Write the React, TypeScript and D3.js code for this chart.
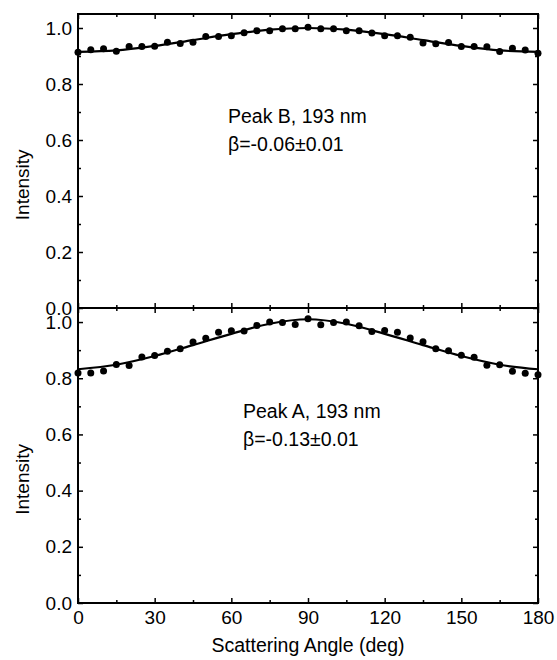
import React, { useRef, useEffect } from "react";
import * as d3 from "d3";

// scattering angle (deg) of the measured points
const angles = [
  0, 5, 10, 15, 20, 25, 30, 35, 40, 45, 50, 55, 60, 65, 70, 75, 80, 85, 90,
  95, 100, 105, 110, 115, 120, 125, 130, 135, 140, 145, 150, 155, 160, 165, 170, 175, 180,
];

// Peak B (top panel)
const peakB = [
  0.913, 0.922, 0.926, 0.917, 0.934, 0.934, 0.935, 0.949, 0.945, 0.949, 0.97, 0.97, 0.972,
  0.983, 0.99, 0.99, 0.997, 0.997, 1.003, 0.997, 0.997, 0.99, 0.99, 0.982, 0.972, 0.972,
  0.967, 0.946, 0.944, 0.948, 0.934, 0.934, 0.933, 0.916, 0.928, 0.921, 0.91,
];

// Peak A (bottom panel)
const peakA = [
  0.819, 0.819, 0.826, 0.849, 0.845, 0.876, 0.881, 0.896, 0.905, 0.929, 0.942, 0.964, 0.969,
  0.968, 0.988, 1.0, 0.998, 0.991, 1.012, 0.99, 0.998, 1.0, 0.987, 0.966, 0.97, 0.964,
  0.943, 0.93, 0.905, 0.898, 0.882, 0.875, 0.846, 0.848, 0.825, 0.818, 0.812,
];

// fit curves
const fitAngles = [0, 15, 30, 45, 60, 75, 90, 105, 120, 135, 150, 165, 180];
const fitB = [0.915, 0.92, 0.936, 0.957, 0.978, 0.994, 1.0, 0.994, 0.978, 0.957, 0.936, 0.92, 0.915];
const fitA = [0.832, 0.848, 0.879, 0.918, 0.958, 0.994, 1.01, 0.994, 0.958, 0.918, 0.879, 0.848, 0.832];

const xTicks = [0, 30, 60, 90, 120, 150, 180];
const xMinor = [15, 45, 75, 105, 135, 165];
const yTicks = [0, 0.2, 0.4, 0.6, 0.8, 1.0];
const yMinor = [0.1, 0.3, 0.5, 0.7, 0.9];

const panels = [
  { name: "Peak B, 193 nm", beta: "β=-0.06±0.01", points: peakB, fit: fitB, top: 14, bottom: 308, textX: 228 },
  { name: "Peak A, 193 nm", beta: "β=-0.13±0.01", points: peakA, fit: fitA, top: 308, bottom: 603, textX: 243 },
];

const W = 557;
const H = 660;
const left = 78;
const right = 538;
const font = "'Liberation Sans', Arial, sans-serif";

export default function App() {
  const svgRef = useRef<SVGSVGElement>(null);

  useEffect(() => {
    const svg = d3.select(svgRef.current);
    svg.selectAll("*").remove();

    const x = d3.scaleLinear().domain([0, 180]).range([left, right]);

    panels.forEach((p, i) => {
      const y = d3.scaleLinear().domain([0, 1.05]).range([p.bottom, p.top]);
      const g = svg.append("g");
      const isLast = i === panels.length - 1;

      // axes, ticks pointing inward
      const put = (axis: any, tx: number, ty: number) => {
        const a = g.append("g").attr("transform", `translate(${tx},${ty})`).call(axis);
        a.select(".domain").remove();
        a.selectAll(".tick line").attr("stroke-width", 1.5);
        a.selectAll("text").attr("font-family", font).attr("font-size", 19).attr("fill", "#000");
        return a;
      };

      put(d3.axisLeft(y).tickValues(yTicks).tickSize(-5).tickPadding(6).tickFormat(d3.format(".1f")), left, 0);
      put(d3.axisLeft(y).tickValues(yMinor).tickSize(-3).tickFormat(() => ""), left, 0);
      put(d3.axisRight(y).tickValues(yTicks).tickSize(-5).tickFormat(() => ""), right, 0);
      put(d3.axisRight(y).tickValues(yMinor).tickSize(-3).tickFormat(() => ""), right, 0);
      put(d3.axisTop(x).tickValues(xTicks).tickSize(-5).tickFormat(() => ""), 0, p.top);
      put(d3.axisTop(x).tickValues(xMinor).tickSize(-3).tickFormat(() => ""), 0, p.top);
      const bx = put(
        d3.axisBottom(x).tickValues(xTicks).tickSize(-5).tickPadding(5)
          .tickFormat(isLast ? (d: any) => String(d) : () => ""),
        0, p.bottom,
      );
      bx.selectAll("text").attr("dy", "0.85em");
      put(d3.axisBottom(x).tickValues(xMinor).tickSize(-3).tickFormat(() => ""), 0, p.bottom);

      // frame
      g.append("rect")
        .attr("x", left).attr("y", p.top)
        .attr("width", right - left).attr("height", p.bottom - p.top)
        .attr("fill", "none").attr("stroke", "#000").attr("stroke-width", 2);

      // fit line
      const line = d3.line<number>()
        .x((d, k) => x(fitAngles[k]))
        .y((d) => y(d))
        .curve(d3.curveMonotoneX);
      g.append("path").attr("d", line(p.fit)).attr("fill", "none")
        .attr("stroke", "#000").attr("stroke-width", 2.2);

      // data points
      g.selectAll(".pt")
        .data(p.points)
        .join("circle")
        .attr("class", "pt")
        .attr("cx", (d, k) => x(angles[k]))
        .attr("cy", (d) => y(d))
        .attr("r", 3.5)
        .attr("fill", "#000");

      // annotations
      const t = g.append("text").attr("font-family", font).attr("font-size", 19.5).attr("fill", "#000");
      t.append("tspan").attr("x", p.textX).attr("y", y(0.66)).text(p.name);
      t.append("tspan").attr("x", p.textX).attr("y", y(0.56)).text(p.beta);

      // y label
      const cy = y(0.44);
      g.append("text")
        .attr("transform", `translate(29,${cy}) rotate(-90)`)
        .attr("text-anchor", "middle")
        .attr("font-family", font).attr("font-size", 19).attr("fill", "#000")
        .text("Intensity");
    });

    svg.append("text")
      .attr("x", (left + right) / 2).attr("y", 652)
      .attr("text-anchor", "middle")
      .attr("font-family", font).attr("font-size", 19.5).attr("fill", "#000")
      .text("Scattering Angle (deg)");
  }, []);

  return (
    <svg
      ref={svgRef}
      width={W}
      height={H}
      style={{ position: "absolute", left: 0, top: 0, background: "#fff" }}
    />
  );
}
